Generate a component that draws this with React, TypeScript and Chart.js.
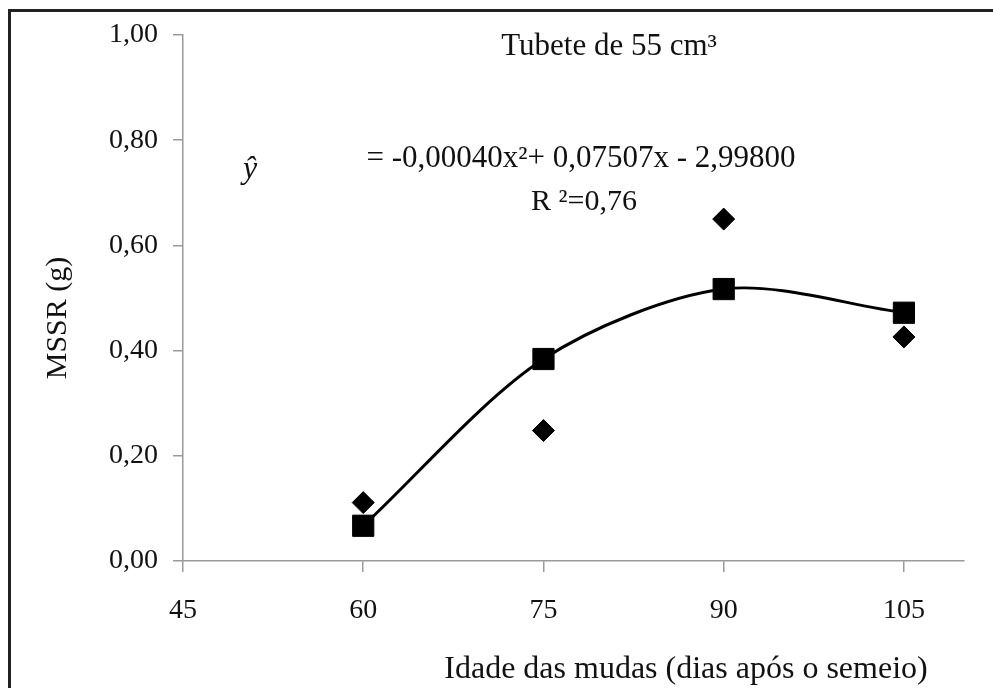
import React, { useEffect, useRef } from "react";
import { Chart, registerables } from "chart.js";

Chart.register(...registerables);

// Data
const ages = [60, 75, 90, 105];
const fitted = [0.067, 0.384, 0.517, 0.472];
const observed = [0.111, 0.248, 0.65, 0.426];
const xTickValues = [45, 60, 75, 90, 105];
const yTickLabels = ["0,00", "0,20", "0,40", "0,60", "0,80", "1,00"];

const chartTitle = "Tubete de 55 cm³";
const equationText = "= -0,00040x²+ 0,07507x - 2,99800";
const r2Text = "R ²=0,76";
const yHatText = "ŷ";
const xTitle = "Idade das mudas (dias após o semeio)";
const yTitle = "MSSR (g)";

const FONT = "'Liberation Serif', 'Times New Roman', serif";

const textPlugin = {
  id: "textPlugin",
  afterDraw(chart: any) {
    const ctx = chart.ctx;
    const ca = chart.chartArea;
    ctx.save();
    // outer frame (top and left edges visible)
    ctx.strokeStyle = "#222";
    ctx.lineWidth = 3;
    ctx.beginPath();
    ctx.moveTo(9.5, chart.height + 5);
    ctx.lineTo(9.5, 10.5);
    ctx.lineTo(chart.width + 5, 10.5);
    ctx.stroke();

    ctx.fillStyle = "#111";
    ctx.textBaseline = "alphabetic";
    ctx.textAlign = "center";
    ctx.font = `31px ${FONT}`;
    ctx.fillText(chartTitle, ca.left + 426, 55);

    ctx.font = `31px ${FONT}`;
    ctx.fillText(equationText, ca.left + 398, 167);
    ctx.font = `30px ${FONT}`;
    ctx.fillText(r2Text, ca.left + 401, 210);

    ctx.textAlign = "left";
    ctx.font = `italic 32px ${FONT}`;
    ctx.fillText(yHatText, ca.left + 60, 178);

    ctx.textAlign = "center";
    ctx.font = `32px ${FONT}`;
    ctx.fillText(xTitle, ca.left + 503, 678);

    ctx.font = `30px ${FONT}`;
    ctx.translate(58, 318);
    ctx.rotate(-Math.PI / 2);
    ctx.textBaseline = "middle";
    ctx.fillText(yTitle, 0, 0);
    ctx.restore();
  },
};

export default function App() {
  const ref = useRef<HTMLCanvasElement>(null);
  useEffect(() => {
    if (!ref.current) return;
    const chart = new Chart(ref.current, {
      type: "scatter",
      data: {
        datasets: [
          {
            label: "Ajustado",
            data: ages.map((x, i) => ({ x, y: fitted[i] })),
            showLine: true,
            tension: 0.3,
            borderColor: "#000",
            borderWidth: 3,
            backgroundColor: "#000",
            pointStyle: "rect",
            pointRadius: 15,
            pointBorderWidth: 1,
            pointBackgroundColor: "#000",
            pointBorderColor: "#000",
          },
          {
            label: "Observado",
            data: ages.map((x, i) => ({ x, y: observed[i] })),
            showLine: false,
            backgroundColor: "#000",
            borderColor: "#000",
            pointStyle: "rectRot",
            pointRadius: 11,
            pointBorderWidth: 1,
          },
        ],
      },
      options: {
        animation: false,
        responsive: false,
        maintainAspectRatio: false,
        layout: { padding: { top: 35, right: 29, left: 0, bottom: 0 } },
        plugins: {
          legend: { display: false },
          tooltip: { enabled: false },
          title: { display: false },
        },
        scales: {
          x: {
            type: "linear",
            min: 45,
            max: 110,
            afterBuildTicks: (axis: any) => {
              axis.ticks = xTickValues.map((v) => ({ value: v }));
            },
            afterFit: (scale: any) => {
              scale.height = 127;
            },
            ticks: {
              color: "#111",
              font: { family: FONT, size: 28 },
              padding: 22,
              maxRotation: 0,
              callback: (v: any) => String(v),
            },
            grid: {
              drawOnChartArea: false,
              drawTicks: true,
              tickLength: 11,
              color: "#9a9a9a",
              lineWidth: 1.5,
            },
            border: { color: "#9a9a9a", width: 1.5 },
          },
          y: {
            min: 0,
            max: 1,
            afterBuildTicks: (axis: any) => {
              axis.ticks = yTickLabels.map((_, i) => ({ value: i * 0.2 }));
            },
            afterFit: (scale: any) => {
              scale.width = 183;
            },
            ticks: {
              color: "#111",
              font: { family: FONT, size: 28 },
              padding: 15,
              callback: (_v: any, i: number) => yTickLabels[i],
            },
            grid: {
              drawOnChartArea: false,
              drawTicks: true,
              tickLength: 10,
              color: "#9a9a9a",
              lineWidth: 1.5,
            },
            border: { color: "#9a9a9a", width: 1.5 },
          },
        },
      },
      plugins: [textPlugin],
    });
    return () => chart.destroy();
  }, []);

  return (
    <div style={{ position: "absolute", left: 0, top: 0, width: 993, height: 688, background: "#fff" }}>
      <canvas ref={ref} width={993} height={688} style={{ display: "block" }} />
    </div>
  );
}
